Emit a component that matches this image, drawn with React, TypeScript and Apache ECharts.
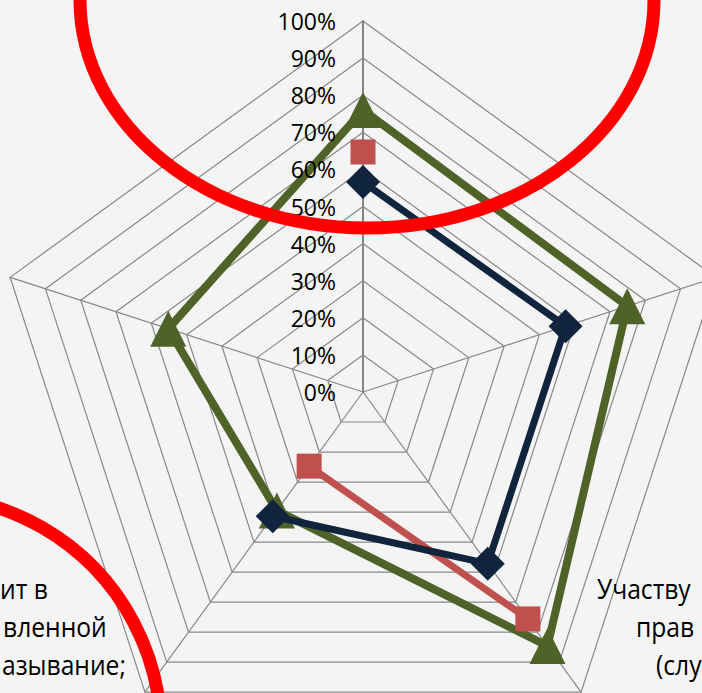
import React, { useEffect, useRef } from 'react';
import * as echarts from 'echarts';

// Indicators in counter-clockwise order, starting at the lower-left spoke.
// Only the parts of the two lower labels that are visible in the picture are kept.
const categories = [
  'ит в\nвленной\nазывание;',
  'Участву\nправ\n(слу',
  'Показатель 3',
  'Показатель 4',
  'Показатель 5',
];
const TOP_INDEX = 3;

// Values in percent, same order as categories (null = no value)
const navySeries = [41.4, 57.2, 57.4, 56.6, null];
const redSeries = [24.7, 75.6, null, 64.7, null];
const greenSeries = [39.5, 84.6, 74.9, 76.0, 55.2];

const axisMin = 0;
const axisMax = 100;
const axisSplits = 10;

export default function App() {
  const ref = useRef<HTMLDivElement>(null);

  useEffect(() => {
    document.body.style.margin = '0';
    const chart = echarts.init(ref.current!, null, { renderer: 'svg' });
    const CX = 363;
    const CY = 392;
    const R = 371;
    const font = '"Open Sans", sans-serif';
    const gridColor = '#888888';

    const baseIndicator = categories.map((name) => ({ name, min: axisMin, max: axisMax }));
    const gridIndicator = categories.map((name, i) => ({
      name,
      min: axisMin,
      max: axisMax,
      ...(i === TOP_INDEX ? { axisLine: { lineStyle: { color: '#858585', width: 2 } } } : {}),
    }));
    const labelIndicator = baseIndicator.map((ind, i) =>
      i === TOP_INDEX ? { ...ind, axisLabel: { show: true } } : ind
    );

    const leftLines = categories[0].split('\n');
    const rightLines = categories[1].split('\n');
    const leftX = [0, 3, 2];
    const rightX = [597, 636, 656];
    const lineY = [588, 626, 664];

    const textStyle = (t: string) => ({
      text: t,
      fill: '#000',
      fontSize: 28,
      fontFamily: font,
      align: 'left',
      verticalAlign: 'middle',
    });
    const texts: any[] = [];
    leftLines.forEach((t, i) =>
      texts.push({ type: 'text', x: leftX[i], y: lineY[i], scaleX: 0.88, z: 50, style: textStyle(t) })
    );
    rightLines.forEach((t, i) =>
      texts.push({ type: 'text', x: rightX[i], y: lineY[i], scaleX: 0.88, z: 50, style: textStyle(t) })
    );

    const commonRadar = {
      center: [CX, CY],
      radius: R,
      startAngle: 234,
      splitNumber: axisSplits,
      shape: 'polygon',
      axisName: { show: false },
      axisTick: { show: false },
      splitArea: { show: false },
    };

    chart.setOption({
      animation: false,
      backgroundColor: '#f4f4f4',
      radar: [
        {
          ...commonRadar,
          z: 0,
          indicator: gridIndicator,
          axisLine: { show: true, lineStyle: { color: gridColor, width: 1.2 } },
          splitLine: { show: true, lineStyle: { color: gridColor, width: 1.2 } },
          axisLabel: { show: false },
        },
        {
          ...commonRadar,
          z: 10,
          indicator: labelIndicator,
          axisLine: { show: false },
          splitLine: { show: false },
          axisLabel: {
            show: false,
            formatter: '{value}%',
            color: '#000',
            fontSize: 23,
            fontFamily: font,
            margin: 27,
            showMinLabel: true,
            showMaxLabel: true,
          },
        },
      ],
      polar: { center: [CX, CY], radius: R },
      angleAxis: {
        type: 'category',
        data: categories,
        startAngle: 234,
        clockwise: false,
        boundaryGap: false,
        show: false,
      },
      radiusAxis: { type: 'value', min: axisMin, max: axisMax, show: false },
      series: [
        {
          type: 'radar',
          radarIndex: 0,
          z: 2,
          symbol: 'triangle',
          symbolSize: 36,
          lineStyle: { color: '#4F6228', width: 8 },
          itemStyle: { color: '#4F6228' },
          data: [{ value: greenSeries }],
        },
        {
          type: 'line',
          coordinateSystem: 'polar',
          z: 3,
          data: redSeries,
          connectNulls: false,
          showAllSymbol: true,
          symbol: 'rect',
          symbolSize: 25,
          lineStyle: { color: '#C0504D', width: 7 },
          itemStyle: { color: '#C0504D', opacity: 1 },
        },
        {
          type: 'line',
          coordinateSystem: 'polar',
          z: 4,
          data: navySeries,
          connectNulls: false,
          showAllSymbol: true,
          symbol: 'diamond',
          symbolSize: 34,
          lineStyle: { color: '#10243E', width: 7 },
          itemStyle: { color: '#10243E', opacity: 1 },
        },
      ],
      graphic: [
        ...texts,
        {
          type: 'ellipse',
          z: 100,
          shape: { cx: 367, cy: 0, rx: 287, ry: 228 },
          style: { fill: 'none', stroke: '#FF0000', lineWidth: 13 },
        },
        {
          type: 'circle',
          z: 100,
          shape: { cx: -76, cy: 733, r: 237 },
          style: { fill: 'none', stroke: '#FF0000', lineWidth: 13 },
        },
      ],
    });

    return () => chart.dispose();
  }, []);

  return (
    <div
      ref={ref}
      style={{ width: 702, height: 693, overflow: 'hidden', background: '#f4f4f4' }}
    />
  );
}
